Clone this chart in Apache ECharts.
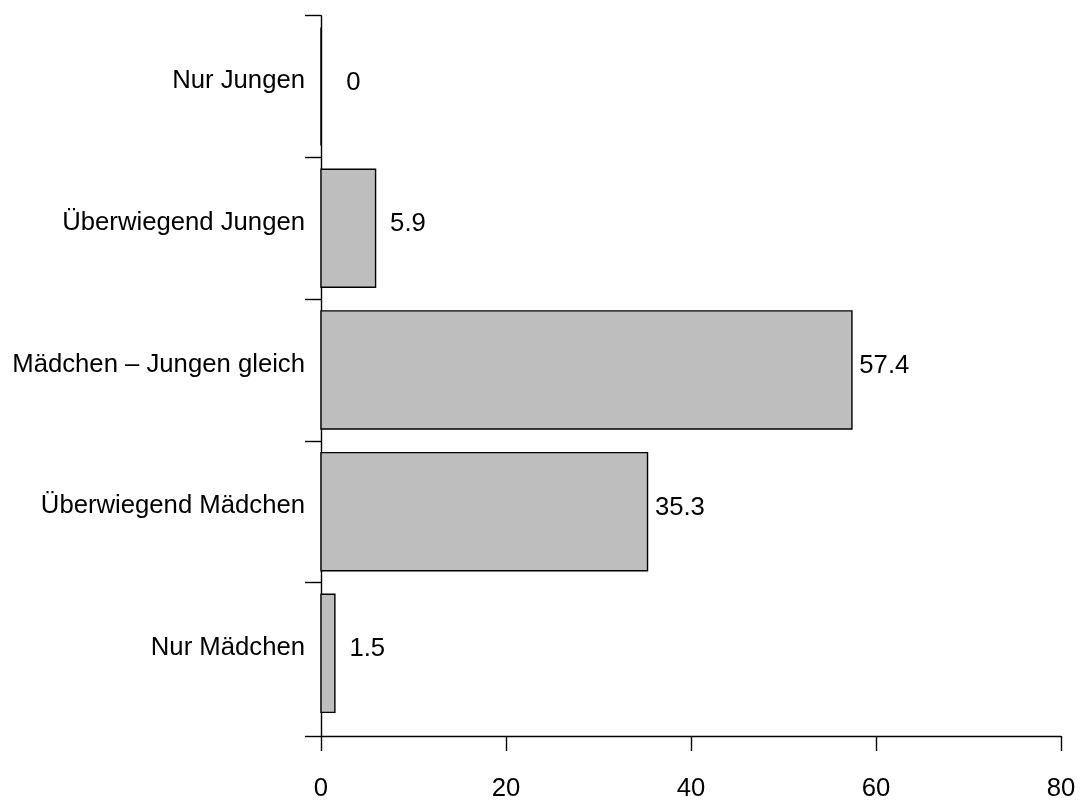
<!DOCTYPE html>
<html>
<head>
<meta charset="utf-8">
<script src="https://cdn.jsdelivr.net/npm/echarts@6/dist/echarts.min.js"></script>
<style>
html,body{margin:0;padding:0;background:#fff;}
#chart{width:1083px;height:806px;}
</style>
</head>
<body>
<div id="chart"></div>
<script>
// Categories listed bottom to top (as drawn by R barplot)
const categories = ["Nur Mädchen", "Überwiegend Mädchen", "Mädchen – Jungen gleich", "Überwiegend Jungen", "Nur Jungen"];
const values = [1.5, 35.3, 57.4, 5.9, 0];
const xTicks = [0, 20, 40, 60, 80];

// R barplot layout: width 1, space 0.2
const SPACE = 0.2, WIDTH = 1;
const centers = categories.map((_, i) => SPACE + (SPACE + WIDTH) * i + WIDTH / 2);
const yMax = SPACE / 2 + (SPACE + WIDTH) * categories.length;
const yTicks = [0].concat(categories.map((_, i) => SPACE / 2 + (SPACE + WIDTH) * (i + 1)));

const FONT = "'Liberation Sans', Arial, sans-serif";
const FS = 25.7;

const chart = echarts.init(document.getElementById('chart'), null, {renderer: 'canvas'});
chart.setOption({
  animation: false,
  backgroundColor: '#ffffff',
  grid: {left: 321, right: 22, top: 15.7, bottom: 70},
  xAxis: {
    type: 'value', min: xTicks[0], max: xTicks[xTicks.length - 1], interval: 20,
    offset: 4.7,
    splitLine: {show: false},
    axisLine: {show: true, lineStyle: {color: '#000', width: 1.4}},
    axisTick: {show: true, length: 15, lineStyle: {color: '#000', width: 1.4}},
    axisLabel: {color: '#000', fontSize: FS, fontFamily: FONT, margin: 35}
  },
  yAxis: {
    type: 'value', min: 0, max: yMax,
    splitLine: {show: false},
    axisLine: {show: true, lineStyle: {color: '#000', width: 1.4}},
    axisTick: {show: true, length: 16, customValues: yTicks, lineStyle: {color: '#000', width: 1.4}},
    axisLabel: {
      show: true, customValues: centers, color: '#000', fontSize: FS, fontFamily: FONT,
      margin: 16, verticalAlign: 'bottom', lineHeight: 11,
      formatter: function (v) {
        const idx = Math.round((v - SPACE - WIDTH / 2) / (SPACE + WIDTH));
        return categories[idx] || '';
      }
    }
  },
  series: [{
    type: 'custom',
    clip: false,
    data: values.map((v, i) => [v, centers[i]]),
    encode: {x: 0, y: 1},
    renderItem: function (params, api) {
      const v = api.value(0), c = api.value(1);
      const p0 = api.coord([0, c + WIDTH / 2]);
      const p1 = api.coord([v, c - WIDTH / 2]);
      const lp = api.coord([v + 3.5, c]);
      return {
        type: 'group',
        children: [
          {type: 'rect', shape: {x: p0[0], y: p0[1], width: p1[0] - p0[0], height: p1[1] - p0[1]},
           style: {fill: '#bebebe', stroke: '#000', lineWidth: 1.4}},
          {type: 'text', x: lp[0], y: lp[1] - 4,
           style: {text: String(v), fill: '#000', font: FS + 'px ' + FONT, align: 'center', verticalAlign: 'middle'}}
        ]
      };
    }
  }]
});
</script>
</body>
</html>
